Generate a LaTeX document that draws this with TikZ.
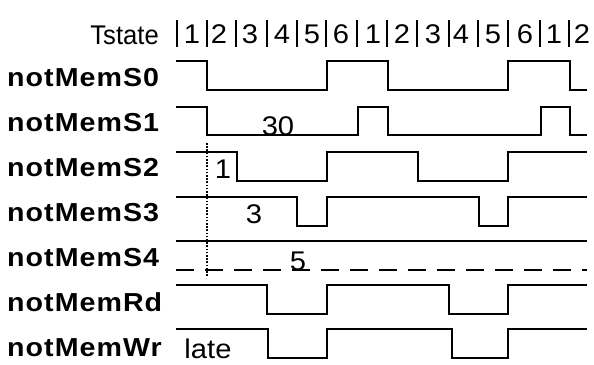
\documentclass[tikz,border=0pt]{standalone}
\usepackage{fontspec}
\setmainfont{Liberation Sans}[FakeStretch=1.08]
\newfontfamily\lblfont{Liberation Sans}[FakeStretch=1.1,LetterSpace=4]
\newfontfamily\tsfont{Liberation Sans}[FakeStretch=0.95]
\begin{document}
\begin{tikzpicture}[x=1pt,y=-1pt,
  wave/.style={line width=2.4pt,line join=miter},
  tbar/.style={line width=2.6pt},
  lbl/.style={anchor=base west,inner sep=0pt,font=\lblfont\bfseries\fontsize{26}{28}\selectfont},
  txt/.style={inner sep=0pt,font=\fontsize{27}{29}\selectfont},
  dig/.style={txt,anchor=base}]
\useasboundingbox (0,0) rectangle (594,364);
% header
\node[txt,anchor=base east,font=\tsfont\fontsize{27}{29}\selectfont] (ts) at (159,44) {Tstate};
\foreach \x [count=\i] in {177,207,236,267,297,326,357,387,417,449,478,508,540,569}
  \draw[tbar] (\x,20) -- (\x,47);
\foreach \x/\d [count=\i] in {192/1,219/2,250/3,282/4,312/5,341/6,373/1,402/2,433/3,461/4,493/5,525/6,554/1,582/2}
  \node[dig] (d\i) at (\x,43) {\d};
% labels
\node[lbl] (l0) at (7,86) {notMemS0};
\node[lbl] (l1) at (7,131) {notMemS1};
\node[lbl] (l2) at (7,176) {notMemS2};
\node[lbl] (l3) at (7,221) {notMemS3};
\node[lbl] (l4) at (7,266) {notMemS4};
\node[lbl] (l5) at (7,311) {notMemRd};
\node[lbl] (l6) at (7,356) {notMemWr};
% waveforms
\draw[wave] (176,61)--(207,61)--(207,90)--(327,90)--(327,61)--(388,61)--(388,90)--(508,90)--(508,61)--(570,61)--(570,90)--(587,90);
\draw[wave] (176,107)--(207,107)--(207,135)--(358,135)--(358,107)--(388,107)--(388,135)--(541,135)--(541,107)--(570,107)--(570,135)--(587,135);
\draw[wave] (176,152)--(237,152)--(237,181)--(327,181)--(327,152)--(418,152)--(418,181)--(508,181)--(508,152)--(587,152);
\draw[wave] (176,197)--(297,197)--(297,226)--(327,226)--(327,197)--(479,197)--(479,226)--(508,226)--(508,197)--(587,197);
\draw[wave] (176,241)--(587,241);
\draw[wave,dash pattern=on 18pt off 11pt] (176,270)--(587,270);
\draw[wave] (176,285)--(267,285)--(267,314)--(327,314)--(327,285)--(449,285)--(449,314)--(508,314)--(508,285)--(587,285);
\draw[wave] (176,329)--(268,329)--(268,358)--(327,358)--(327,329)--(452,329)--(452,358)--(508,358)--(508,329)--(587,329);
% dotted marker
\draw[line width=2pt,dash pattern=on 1.6pt off 1.6pt] (207,143)--(207,277);
% annotations
\node[dig] (n30) at (278,135) {30};
\node[dig] (n1) at (223,178) {1};
\node[dig] (n3) at (254,223) {3};
\node[dig] (n5) at (298,270) {5};
\node[txt,anchor=base] (late) at (208,358) {late};
\end{tikzpicture}
\end{document}
